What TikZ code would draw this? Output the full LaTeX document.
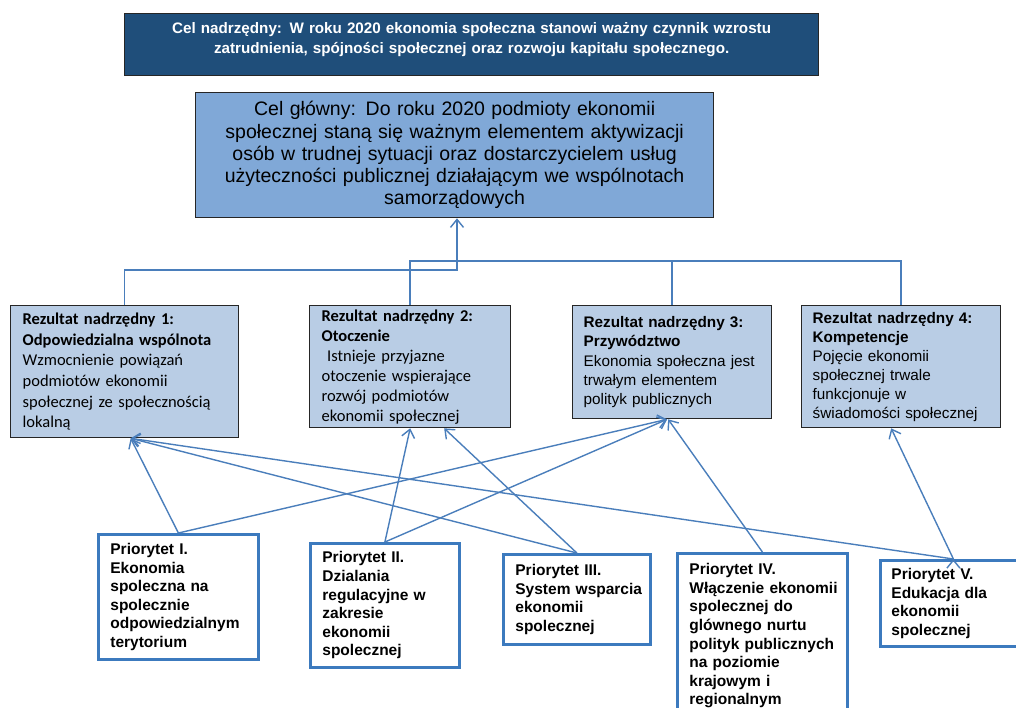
\documentclass[tikz,border=0pt]{standalone}
\usepackage{fontspec}
\setmainfont{Liberation Sans}
\newfontfamily\carlito{Carlito}
\usetikzlibrary{arrows.meta}
\definecolor{goaldark}{RGB}{31,78,122}
\definecolor{goalmid}{RGB}{128,168,215}
\definecolor{resfill}{RGB}{185,205,229}
\definecolor{linkblue}{RGB}{74,126,187}
\definecolor{prioline}{RGB}{60,122,190}
\tikzset{
  topgoal/.style={draw=black!85, line width=1.3pt, fill=goaldark, text=white, anchor=north west,
    align=center, font=\bfseries\fontsize{15.2}{20}\selectfont},
  maingoal/.style={draw=black!85, line width=1.3pt, fill=goalmid, anchor=north west,
    align=center, font=\fontsize{19.5}{22.3}\selectfont},
  result/.style={draw=black!85, line width=1.3pt, fill=resfill, anchor=north west,
    align=left, inner xsep=12pt},
  prio/.style={draw=prioline, line width=2.8pt, fill=white, anchor=north west,
    align=left, inner xsep=12pt, font={\bfseries\fontsize{15.5}{18.6}\selectfont\hyphenpenalty=10000\relax}},
  bus/.style={draw=linkblue, line width=1.4pt},
  link/.style={bus, -{Straight Barb[length=8pt,width=13pt]}}
}

\begin{document}
\begin{tikzpicture}[x=1pt,y=-1pt]
  \useasboundingbox (0,0) rectangle (1016,707);
  \clip (0,0) rectangle (1016,707);

  \node[topgoal, minimum width=694pt, minimum height=62pt, text width=680pt, text depth=33pt] (goal) at (124,13)
    {Cel nadrzędny: W roku 2020 ekonomia społeczna stanowi ważny czynnik wzrostu\\
     zatrudnienia, spójności społecznej oraz rozwoju kapitału społecznego.};
  \node[maingoal, minimum width=518pt, minimum height=125pt, text width=505pt] (main) at (195,92)
    {Cel główny: Do roku 2020 podmioty ekonomii\\
     społecznej staną się ważnym elementem aktywizacji\\
     osób w trudnej sytuacji oraz dostarczycielem usług\\
     użyteczności publicznej działającym we wspólnotach\\
     samorządowych};

  \node[result, font=\carlito\fontsize{16.5}{20.6}\selectfont, minimum width=228pt, minimum height=132pt, text width=204pt] (r1) at (10,305)
    {\textbf{Rezultat nadrzędny 1:}\\ \textbf{Odpowiedzialna wspólnota}\\ Wzmocnienie powiązań\\
     podmiotów ekonomii\\ społecznej ze społecznością\\ lokalną};
  \node[result, font=\carlito\fontsize{16.5}{20}\selectfont, minimum width=201pt, minimum height=122pt, text width=177pt] (r2) at (309,305)
    {\textbf{Rezultat nadrzędny 2:}\\ \textbf{Otoczenie}\\ \ Istnieje przyjazne\\
     otoczenie wspierające\\ rozwój podmiotów\\ ekonomii społecznej};
  \node[result, font=\fontsize{15.3}{19.3}\selectfont, inner xsep=11pt, minimum width=199pt, minimum height=113pt, text width=177pt] (r3) at (572,305)
    {\textbf{Rezultat nadrzędny 3:}\\ \textbf{Przywództwo}\\ Ekonomia społeczna jest\\
     trwałym elementem\\ polityk publicznych};
  \node[result, font=\fontsize{15.3}{19}\selectfont, inner xsep=11pt, minimum width=199pt, minimum height=122pt, text width=177pt] (r4) at (801,305)
    {\textbf{Rezultat nadrzędny 4:}\\ \textbf{Kompetencje}\\ Pojęcie ekonomii\\
     społecznej trwale\\ funkcjonuje w\\ świadomości społecznej};

  \node[prio, minimum width=160pt, minimum height=125pt, text width=136pt] (p1) at (97,533)
    {Priorytet I.\\ Ekonomia\\ spoleczna~na\\ spolecznie\\ odpowiedzialnym\\ terytorium};
  \node[prio, minimum width=149pt, minimum height=124pt, text width=125pt] (p2) at (309,542)
    {Priorytet II.\\ Dzialania\\ regulacyjne~w\\ zakresie\\ ekonomii\\ spolecznej};
  \node[prio, minimum width=147pt, minimum height=90pt, text width=123pt] (p3) at (502,553)
    {Priorytet III.\\ System~wsparcia\\ ekonomii\\ spolecznej};
  \node[prio, minimum width=170pt, minimum height=165pt, text width=146pt] (p4) at (676,552)
    {Priorytet IV.\\ Włączenie~ekonomii\\ spolecznej~do\\ glównego~nurtu\\ polityk~publicznych\\
     na~poziomie\\ krajowym~i\\ regionalnym};
  \node[prio, inner xsep=11pt, minimum width=146pt, minimum height=86pt, text width=124pt] (p5) at (879,559)
    {Priorytet V.\\ Edukacja~dla\\ ekonomii\\ spolecznej};

  \coordinate (busa) at (457,270);
  \coordinate (busb) at (408,261);
  \path[link] (r1.north) |- (busa) -- (busa |- main.south);
  \draw[bus] (r2.north) |- (r4.north |- busb) -- (r4.north);
  \draw[bus] (r3.north) -- (r3.north |- busb);

  \path[link]
    (p1.north) edge ([xshift=6pt]r1.south)
    (p1.north) edge ([xshift=-5pt]r3.south)
    (p2.north) edge (r2.south)
    (p2.north) edge ([xshift=-5pt]r3.south)
    (p3.north) edge ([xshift=6pt]r1.south)
    (p3.north) edge ([xshift=34pt]r2.south)
    (p4.north) edge ([xshift=-4pt]r3.south)
    (p5.north) edge ([xshift=6pt]r1.south)
    (p5.north) edge ([xshift=-10pt]r4.south);
\end{tikzpicture}
\end{document}
